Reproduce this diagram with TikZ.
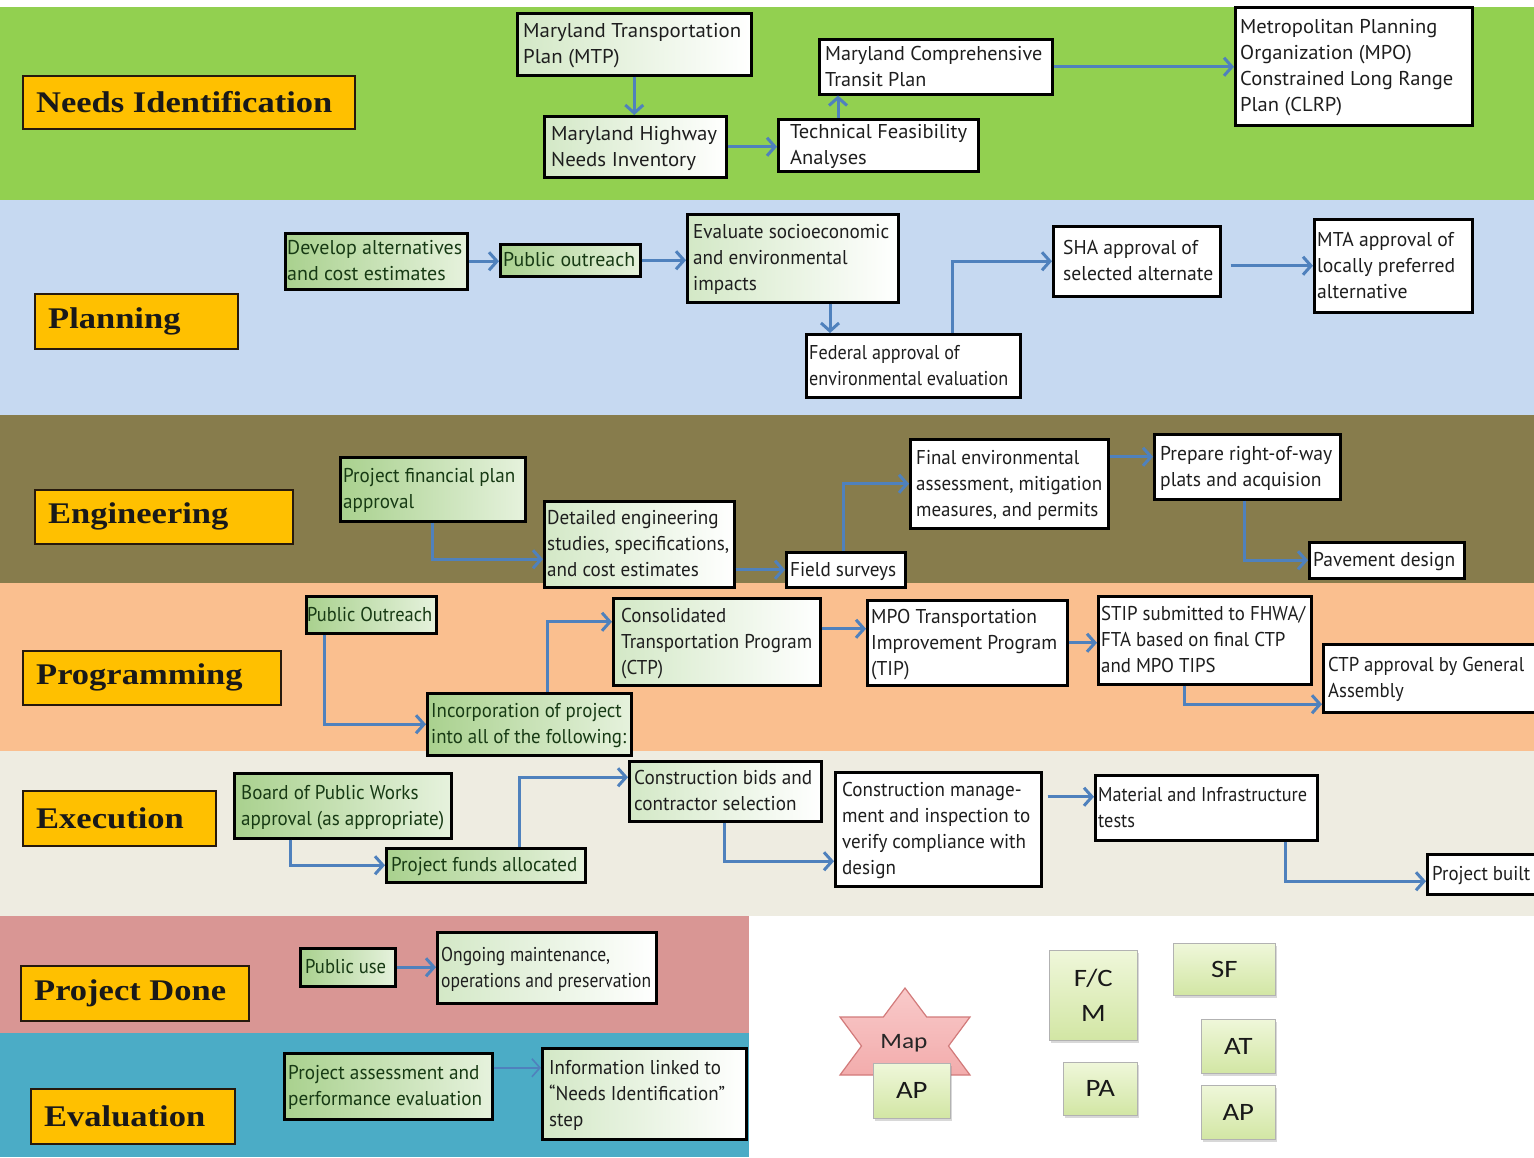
\documentclass[tikz,border=0pt]{standalone}
\usepackage{fontspec}
\usepackage{graphicx}
\setmainfont{Liberation Serif}
\newfontfamily\fLab[FakeStretch=1.15]{Liberation Serif}
\newfontfamily\fBox{PT Sans}
\newfontfamily\fLeg[FakeStretch=1.15]{Carlito}
\usetikzlibrary{arrows.meta,shadows}

\definecolor{cneeds}{HTML}{92D050}
\definecolor{cplan}{HTML}{C6D9F1}
\definecolor{ceng}{HTML}{877C4C}
\definecolor{cprog}{HTML}{FABF8F}
\definecolor{cexec}{HTML}{EEECE1}
\definecolor{cdone}{HTML}{D99694}
\definecolor{ceval}{HTML}{4BACC6}
\definecolor{corange}{HTML}{FFC000}
\definecolor{cblue}{HTML}{4F81BD}
\definecolor{cgreen}{HTML}{A9D18E}
\definecolor{cgreenl}{HTML}{E6F2DD}
\definecolor{clight}{HTML}{D3E8C6}
\definecolor{cgtext}{HTML}{173A14}
\definecolor{cwtext}{HTML}{1E1E1E}
\definecolor{clegtop}{HTML}{EFF7DA}
\definecolor{clegbot}{HTML}{D2E6A4}
\definecolor{cstart}{HTML}{F9CACA}
\definecolor{cstarb}{HTML}{F0A2A2}
\definecolor{cstard}{HTML}{D27A7A}

\tikzset{
 boxbase/.style={anchor=north west, inner sep=0pt, draw=black, line width=2.5pt},
 gbox/.style={boxbase, left color=cgreen, right color=cgreenl},
 lbox/.style={boxbase, left color=clight, right color=white},
 wbox/.style={boxbase, fill=white},
 txtbase/.style={inner sep=0pt, font=\fBox\fontsize{20}{26}\selectfont},
 gtxt/.style={txtbase, text=cgtext},
 ltxt/.style={txtbase, text=cwtext},
 wtxt/.style={txtbase, text=cwtext},
 lblbox/.style={anchor=north west, inner sep=0pt, draw=black!80!brown, line width=1.6pt, fill=corange},
 lbltxt/.style={inner sep=0pt, font=\fLab\bfseries\fontsize{30}{30}\selectfont, text=black!90},
 arr/.style={draw=cblue, line width=3pt, -{Straight Barb[length=8pt,width=18pt]}},
 leg/.style={draw=black!30, line width=0.6pt, top color=clegtop, bottom color=clegbot,
   drop shadow={shadow xshift=2pt,shadow yshift=-2.5pt,opacity=0.3}, inner sep=0pt,
   font=\fLeg\fontsize{25}{35}\selectfont, text=black!90, align=center, anchor=north west},
 maptxt/.style={inner sep=0pt, font=\fLeg\fontsize{22}{22}\selectfont, text=black!85},
}

% name, style, x1, y1, x2, y2, text-left, text-right, text
\newcommand{\bx}[9]{%
 \pgfmathsetmacro\bxW{#5-#3}%
 \pgfmathsetmacro\bxH{#6-#4}%
 \pgfmathsetmacro\bxT{#8-#7}%
 \pgfmathsetmacro\bxC{(#4+#6)/2+2.5}%
 \node[#2box, minimum width=\bxW pt, minimum height=\bxH pt] (#1) at (#3,#4) {};
 \node[#2txt, anchor=west] (#1t) at (#7,\bxC) {\resizebox{\bxT pt}{\height}{\begin{tabular}{@{}l@{}}#9\end{tabular}}};}

\newcommand{\lab}[6]{%
 \pgfmathsetmacro\bxW{#4-#2}%
 \pgfmathsetmacro\bxH{#5-#3}%
 \node[lblbox, minimum width=\bxW pt, minimum height=\bxH pt] (#1) at (#2,#3) {};
 \node[lbltxt, anchor=west] (#1t) at ([xshift=14pt]#1.west) {#6};}

\begin{document}
\begin{tikzpicture}[x=1pt,y=-1pt]
\useasboundingbox (0,0) rectangle (1534,1157);
\clip (0,0) rectangle (1534,1157);
% bands
\fill[white] (0,0) rectangle (1534,1157);
\fill[cneeds] (0,7) rectangle (1534,200);
\fill[cplan] (0,200) rectangle (1534,415);
\fill[ceng] (0,415) rectangle (1534,583);
\fill[cprog] (0,583) rectangle (1534,751);
\fill[cexec] (0,751) rectangle (1534,916);
\fill[cdone] (0,916) rectangle (749,1033);
\fill[ceval] (0,1033) rectangle (749,1157);

% stage labels
\lab{Lneeds}{22}{75}{354}{128}{Needs Identification}
\lab{Lplan}{34}{293}{237}{348}{Planning}
\lab{Leng}{34}{489}{292}{543}{Engineering}
\lab{Lprog}{22}{650}{280}{704}{Programming}
\lab{Lexec}{22}{790}{215}{845}{Execution}
\lab{Ldone}{20}{965}{248}{1020}{Project Done}
\lab{Leval}{30}{1088}{234}{1143}{Evaluation}

% needs identification
\bx{mtp}{l}{516}{12}{750}{74}{523}{741}{Maryland Transportation\\Plan (MTP)}
\bx{mhni}{l}{543}{115}{725}{176}{551}{717}{Maryland Highway\\Needs Inventory}
\bx{tfa}{w}{777}{118}{977}{170}{790}{967}{Technical Feasibility\\Analyses}
\bx{mctp}{w}{818}{38}{1051}{93}{825}{1042}{Maryland Comprehensive\\Transit Plan}
\bx{mpo}{w}{1234}{6}{1471}{124}{1240}{1453}{Metropolitan Planning\\Organization (MPO)\\Constrained Long Range\\Plan (CLRP)}

% planning
\bx{dev}{g}{284}{232}{466}{288}{287}{462}{Develop alternatives\\and cost estimates}
\bx{po}{g}{499}{243}{639}{275}{503}{635}{Public outreach}
\bx{eval}{l}{686}{213}{897}{301}{693}{889}{Evaluate socioeconomic\\and environmental\\impacts}
\bx{fed}{w}{805}{333}{1019}{396}{809}{1008}{Federal approval of\\environmental evaluation}
\bx{sha}{w}{1052}{225}{1219}{295}{1063}{1213}{SHA approval of\\selected alternate}
\bx{mta}{w}{1313}{218}{1471}{311}{1317}{1455}{MTA approval of\\locally preferred\\alternative}

% engineering
\bx{pfp}{g}{339}{456}{524}{520}{343}{515}{Project financial plan\\approval}
\bx{des}{l}{543}{500}{733}{586}{547}{729}{Detailed engineering\\studies, specifications,\\and cost estimates}
\bx{fs}{w}{785}{551}{904}{586}{790}{896}{Field surveys}
\bx{fea}{w}{909}{438}{1107}{527}{916}{1102}{Final environmental\\assessment, mitigation\\measures, and permits}
\bx{prw}{w}{1153}{433}{1339}{498}{1160}{1332}{Prepare right-of-way\\plats and acquision}
\bx{pd}{w}{1308}{541}{1463}{577}{1313}{1455}{Pavement design}

% programming
\bx{ppo}{g}{305}{595}{435}{632}{307}{432}{Public Outreach}
\bx{inc}{g}{426}{692}{630}{754}{431}{626}{Incorporation of project\\into all of the following:}
\bx{ctp}{l}{612}{597}{819}{684}{621}{812}{Consolidated\\Transportation Program\\(CTP)}
\bx{tip}{w}{866}{599}{1066}{684}{871}{1057}{MPO Transportation\\Improvement Program\\(TIP)}
\bx{stip}{w}{1097}{595}{1310}{683}{1101}{1305}{STIP submitted to FHWA/\\FTA based on final CTP\\and MPO TIPS}
\bx{ctpa}{w}{1322}{643}{1540}{711}{1328}{1524}{CTP approval by General\\Assembly}

% execution
\bx{bpw}{g}{233}{772}{450}{837}{241}{444}{Board of Public Works\\approval (as appropriate)}
\bx{pfa}{g}{385}{847}{584}{881}{391}{577}{Project funds allocated}
\bx{cbc}{l}{628}{760}{820}{820}{634}{812}{Construction bids and\\contractor selection}
\bx{cm}{w}{834}{771}{1040}{885}{842}{1030}{Construction manage-\\ment and inspection to\\verify compliance with\\design}
\bx{mit}{w}{1094}{774}{1316}{839}{1098}{1307}{Material and Infrastructure\\tests}
\bx{pb}{w}{1426}{853}{1540}{893}{1432}{1530}{Project built}

% project done / evaluation
\bx{pu}{g}{299}{947}{394}{985}{305}{386}{Public use}
\bx{om}{l}{436}{931}{655}{1002}{441}{651}{Ongoing maintenance,\\operations and preservation}
\bx{pa}{g}{283}{1052}{491}{1118}{288}{482}{Project assessment and\\performance evaluation}
\bx{info}{l}{541}{1047}{745}{1138}{549}{725}{Information linked to\\“Needs Identification”\\step}

% connectors: needs
\draw[arr] (mtp.south) -- (mtp.south |- mhni.north);
\draw[arr] (mhni.east) -- (mhni.east -| tfa.west);
\coordinate (a3) at ([xshift=61pt]tfa.north west);
\draw[arr] (a3) -- (a3 |- mctp.south);
\draw[arr] (mctp.east) -- (mctp.east -| mpo.west);
% planning
\draw[arr] (dev.east) -- (dev.east -| po.west);
\draw[arr] (po.east) -- (po.east -| eval.west);
\coordinate (a7) at ([xshift=144pt]eval.south west);
\draw[arr] (a7) -- (a7 |- fed.north);
\coordinate (a8) at ([xshift=147pt]fed.north west);
\draw[arr] (a8) |- (sha.west);
\coordinate (a9) at ([xshift=9pt]sha.east);
\draw[arr] (a9 |- mta.west) -- (mta.west);
% engineering
\coordinate (a10s) at ([xshift=93pt]pfp.south west);
\coordinate (a10e) at ([yshift=-15pt]des.west);
\draw[arr] (a10s) |- (a10e);
\draw[arr] (fs.west -| des.east) -- (fs.west);
\coordinate (a12) at ([xshift=58pt]fs.north west);
\draw[arr] (a12) |- (fea.west);
\coordinate (a13) at ([yshift=10pt]prw.west);
\draw[arr] (a13 -| fea.east) -- (a13);
\coordinate (a14) at ([xshift=91pt]prw.south west);
\draw[arr] (a14) |- (pd.west);
% programming
\coordinate (a15) at ([xshift=19pt]ppo.south west);
\draw[arr] (a15) |- (inc.west);
\coordinate (a16s) at ([xshift=121pt]inc.north west);
\coordinate (a16e) at ([yshift=20pt]ctp.west);
\draw[arr] (a16s) |- (a16e);
\coordinate (a17) at ([yshift=14pt]tip.west);
\draw[arr] (a17 -| ctp.east) -- (a17);
\draw[arr] (tip.east) -- (tip.east -| stip.west);
\coordinate (a19s) at ([xshift=87pt]stip.south west);
\coordinate (a19e) at ([yshift=-26pt]ctpa.west);
\draw[arr] (a19s) |- (a19e);
% execution
\coordinate (a20) at ([xshift=57pt]bpw.south west);
\draw[arr] (a20) |- (pfa.west);
\coordinate (a21s) at ([xshift=134pt]pfa.north west);
\coordinate (a21e) at ([yshift=14pt]cbc.west);
\draw[arr] (a21s) |- (a21e);
\coordinate (a22s) at ([xshift=96pt]cbc.south west);
\coordinate (a22e) at ([yshift=-32pt]cm.west);
\draw[arr] (a22s) |- (a22e);
\coordinate (a23) at ([yshift=11pt]mit.west);
\coordinate (a23s) at ([xshift=5pt]cm.east);
\draw[arr] (a23s |- a23) -- (a23);
\coordinate (a24s) at ([xshift=191pt]mit.south west);
\coordinate (a24e) at ([yshift=-7pt]pb.west);
\draw[arr] (a24s) |- (a24e);
% done / evaluation
\draw[arr] (pu.east) -- (pu.east -| om.west);
\coordinate (a26) at ([yshift=26pt]info.west);
\draw[arr, line width=1.6pt] (a26 -| pa.east) -- (a26);

% legend
\path[draw=cstard, line width=1.2pt, top color=cstart, bottom color=cstarb]
 (905,988) -- (926.7,1017) -- (970,1017) -- (948.5,1046) -- (970,1075) -- (927.2,1075)
 -- (905,1105) -- (882.8,1075) -- (840,1075) -- (861.5,1046) -- (840,1017) -- (883.3,1017) -- cycle;
\node[maptxt] (map) at (904,1043) {Map};
\node[leg, minimum width=77pt, minimum height=55pt] (ap1) at (873,1063) {AP};
\node[leg, minimum width=88pt, minimum height=90pt] (fcm) at (1049,950) {F/C\\M};
\node[leg, minimum width=102pt, minimum height=52pt] (sf) at (1173,943) {SF};
\node[leg, minimum width=74pt, minimum height=54pt] (at) at (1201,1019) {AT};
\node[leg, minimum width=74pt, minimum height=53pt] (pa2) at (1063,1062) {PA};
\node[leg, minimum width=74pt, minimum height=54pt] (ap2) at (1201,1085) {AP};
\end{tikzpicture}
\end{document}
